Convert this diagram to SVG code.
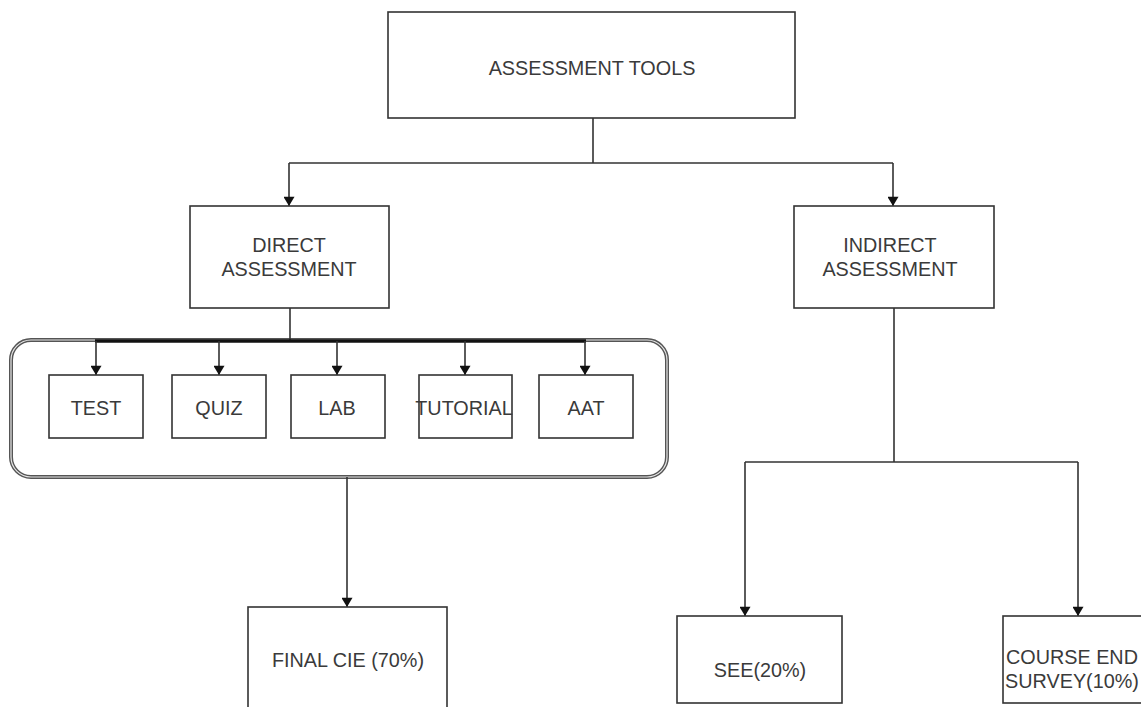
<svg xmlns="http://www.w3.org/2000/svg" width="1141" height="707" viewBox="0 0 1141 707">
<defs>
<marker id="arr" viewBox="0 0 10 12" refX="10" refY="6" markerWidth="12" markerHeight="11" markerUnits="userSpaceOnUse" orient="auto">
<path d="M0,0 L10,6 L0,12 Z" fill="#111"/>
</marker>
<style>
.box{fill:#fff;stroke:#333;stroke-width:1.6}
.t{font-family:"Liberation Sans",Arial,sans-serif;font-size:19.8px;fill:#3a3a3a;text-anchor:middle}
.c{fill:none;stroke:#333;stroke-width:1.6}
.ca{fill:none;stroke:#333;stroke-width:1.6;marker-end:url(#arr)}
</style>
</defs>
<rect width="1141" height="707" fill="#fff"/>
<g id="group-container">
<rect x="11" y="340" width="656" height="137" rx="20" ry="20" fill="#fff" stroke="#555" stroke-width="4"/>
<rect x="11" y="340" width="656" height="137" rx="20" ry="20" fill="none" stroke="#e6e6e6" stroke-width="1.2"/>
</g>
<g id="connectors">
<path class="c" d="M593,118 V163 M289,163 H893"/>
<path class="ca" d="M289,163 V206"/>
<path class="ca" d="M893,163 V206"/>
<path class="c" d="M290,308 V341"/>
<path d="M95,341 H586" stroke="#111" stroke-width="3.5" fill="none"/>
<path class="ca" d="M96,341 V375"/>
<path class="ca" d="M219,341 V375"/>
<path class="ca" d="M337,341 V375"/>
<path class="ca" d="M465,341 V375"/>
<path class="ca" d="M585,341 V375"/>
<path class="ca" d="M347,477 V607"/>
<path class="c" d="M894,308 V462 M745,462 H1078"/>
<path class="ca" d="M745,462 V616"/>
<path class="ca" d="M1078,462 V616"/>
</g>
<g id="node-tools">
<rect class="box" x="388" y="12" width="407" height="106"/>
<text class="t" x="592" y="75">ASSESSMENT TOOLS</text>
</g>
<g id="node-direct">
<rect class="box" x="190" y="206" width="199" height="102"/>
<text class="t" x="289" y="252">DIRECT</text>
<text class="t" x="289" y="276">ASSESSMENT</text>
</g>
<g id="node-indirect">
<rect class="box" x="794" y="206" width="200" height="102"/>
<text class="t" x="890" y="252">INDIRECT</text>
<text class="t" x="890" y="276">ASSESSMENT</text>
</g>
<g id="node-test">
<rect class="box" x="49" y="375" width="94" height="63"/>
<text class="t" x="96" y="415">TEST</text>
</g>
<g id="node-quiz">
<rect class="box" x="172" y="375" width="94" height="63"/>
<text class="t" x="219" y="415">QUIZ</text>
</g>
<g id="node-lab">
<rect class="box" x="291" y="375" width="94" height="63"/>
<text class="t" x="337" y="415">LAB</text>
</g>
<g id="node-tutorial">
<rect class="box" x="419" y="375" width="93" height="63"/>
<text class="t" x="464" y="415">TUTORIAL</text>
</g>
<g id="node-aat">
<rect class="box" x="539" y="375" width="94" height="63"/>
<text class="t" x="586" y="415">AAT</text>
</g>
<g id="node-final-cie">
<rect class="box" x="248" y="607" width="199" height="110"/>
<text class="t" x="348" y="667">FINAL CIE (70%)</text>
</g>
<g id="node-see">
<rect class="box" x="677" y="616" width="165" height="87"/>
<text class="t" x="760" y="677">SEE(20%)</text>
</g>
<g id="node-course-end">
<rect class="box" x="1003" y="616" width="150" height="87"/>
<text class="t" x="1072" y="664">COURSE END</text>
<text class="t" x="1072" y="688">SURVEY(10%)</text>
</g>
</svg>
